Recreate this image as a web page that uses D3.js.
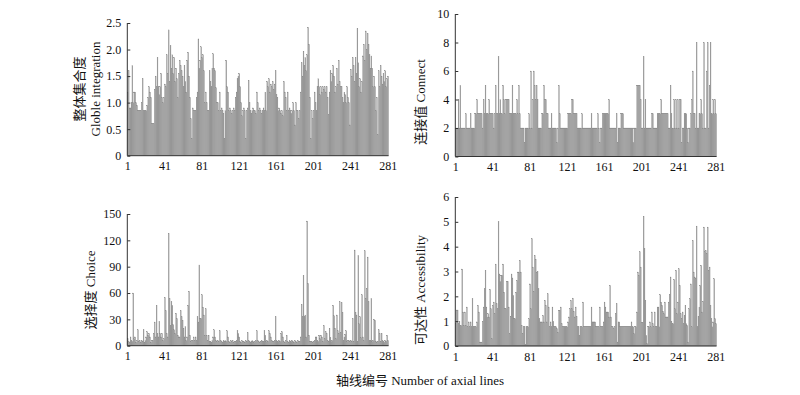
<!DOCTYPE html>
<html><head><meta charset="utf-8">
<script src="https://cdn.jsdelivr.net/npm/d3@7"></script>
<style>body{margin:0;background:#fff}</style>
</head><body><svg id="c" width="800" height="395"></svg>
<script>
// ---- data ----
const axialIds = d3.range(1, 282);
const xTickLabels = [1, 41, 81, 121, 161, 201, 241, 281];

const integration = [
1.2,1.6,0.9,0.9,1.0,1.7,1.0,1.2,1.2,1.0,
0.95,0.85,0.85,0.85,0.85,1.0,1.45,0.85,0.85,0.85,
0.85,0.95,1.1,1.3,1.2,1.1,0.6,0.6,0.6,1.25,
1.5,1.3,1.85,1.3,1.15,1.3,1.55,1.1,1.0,1.1,
1.35,1.3,1.9,1.55,2.37,1.4,2.07,1.65,1.9,1.55,
1.85,1.4,1.65,1.45,1.1,1.55,1.8,1.7,1.6,1.5,
1.3,1.7,1.4,1.2,1.8,1.95,1.5,1.1,0.7,0.33,
0.9,0.85,0.85,0.85,1.1,1.2,2.2,1.65,1.8,2.05,
1.85,1.9,1.6,1.0,1.2,1.0,0.85,0.85,1.6,1.4,
1.3,1.65,1.92,1.65,1.6,1.28,1.0,1.0,0.85,1.2,
0.85,0.9,0.85,0.8,0.33,0.85,1.8,1.3,1.2,0.85,
0.9,0.85,0.8,0.85,0.9,0.85,1.1,1.2,1.45,1.5,
1.55,1.3,1.0,0.75,0.85,0.9,0.85,0.33,0.85,0.9,
1.42,1.0,0.85,0.8,0.85,0.9,0.85,0.85,0.8,1.2,
1.0,0.85,0.9,0.85,0.8,0.85,0.9,0.85,1.2,0.85,
1.4,1.3,1.45,1.2,1.35,1.3,1.4,1.25,1.35,1.6,
1.15,1.1,0.85,0.9,0.85,0.8,0.85,0.75,1.4,1.2,
1.1,0.85,1.2,0.85,0.9,0.85,0.8,0.85,1.0,0.85,
0.58,1.0,0.85,0.85,0.7,0.85,1.2,1.75,1.5,1.97,
1.7,1.85,1.6,1.9,2.42,2.1,1.1,0.33,0.85,0.7,
0.85,1.2,1.0,0.85,1.3,1.45,1.3,1.15,1.3,1.2,
1.3,1.25,1.3,1.2,1.3,1.1,0.77,1.2,1.6,1.4,
1.55,1.7,1.5,1.2,1.3,1.65,1.35,1.8,1.4,1.3,
1.3,1.1,1.0,1.2,1.15,1.0,1.3,1.1,1.0,0.58,
1.63,1.5,1.85,1.7,1.4,1.85,1.55,2.4,1.75,1.3,
1.45,1.2,1.4,1.88,2.1,1.8,2.35,2.0,2.3,2.1,
1.9,1.65,1.88,1.65,1.3,1.5,1.3,0.85,1.1,0.4,
1.6,1.3,1.7,1.5,1.35,1.55,1.4,1.6,1.3,1.45,1.5];

const connect = [
2,2,2,4,2,5,2,2,2,2,
2,3,2,2,2,2,3,2,2,2,
2,3,3,4,3,3,3,3,3,2,
4,3,5,3,3,3,4,3,3,3,
3,2,3,5,3,3,7,3,4,3,
3,5,4,3,4,4,4,4,3,3,
3,5,3,3,3,3,4,3,5,3,
2,2,2,2,1,2,2,2,2,3,
2,6,2,4,6,5,4,5,4,2,
2,2,2,3,3,5,4,4,3,3,
2,2,2,3,2,2,2,2,2,1,
2,5,3,2,2,2,2,2,2,2,
2,3,3,3,3,4,4,3,3,3,
3,2,2,2,2,2,3,2,2,2,
2,2,2,2,2,2,3,2,2,2,
2,2,2,3,2,1,2,2,3,3,
3,3,3,3,3,4,2,2,2,2,
2,2,2,3,1,2,2,2,3,3,
3,2,2,2,2,2,2,2,2,2,
2,1,2,2,2,5,5,5,5,4,
2,2,7,2,4,2,2,2,2,2,
2,3,3,2,2,2,2,3,3,3,
3,4,3,3,3,3,3,3,3,2,
2,5,3,2,2,4,2,4,2,4,
2,4,4,1,2,2,3,3,3,2,
1,2,2,3,4,6,3,3,2,8,
2,2,3,3,4,3,2,8,2,2,
6,8,2,5,8,3,3,4,3,4,3];

const choice = [
8,5,4,10,6,5,60,8,10,4,
6,18,5,6,4,6,5,18,4,6,
10,16,12,14,10,4,6,6,14,27,
10,46,14,10,28,14,10,14,6,8,
55,40,14,10,128,54,23,50,46,24,
18,14,37,31,12,10,10,40,33,29,
20,10,22,6,10,46,62,12,5,6,
6,10,6,10,6,33,27,92,31,31,
58,44,35,12,42,12,6,12,5,5,
4,6,10,18,10,6,5,6,5,17,
6,5,4,6,5,6,5,17,10,5,
4,6,5,6,4,5,5,6,17,14,
10,5,4,6,5,5,4,6,5,15,
6,5,4,5,6,5,4,5,6,17,
6,5,4,5,6,5,5,17,12,5,
6,5,17,14,10,6,5,5,6,33,
6,5,5,6,5,14,16,10,5,4,
6,12,5,4,6,5,5,6,5,4,
6,5,4,6,5,5,10,47,33,80,
33,35,10,142,71,12,5,5,5,4,
5,6,10,10,6,5,12,8,12,10,
5,23,8,16,14,6,5,20,9,5,
6,46,34,20,8,35,17,14,50,15,
49,38,6,10,13,17,5,6,6,5,
6,5,31,5,109,38,35,5,103,25,
33,9,58,10,6,108,54,65,101,50,
6,6,54,5,6,30,29,5,4,5,
18,14,5,14,6,5,4,6,5,12,6];

const accessibility = [
0.9,1.45,1.45,0.9,1.0,0.83,0.83,3.1,1.37,0.83,
1.37,0.83,1.57,0.77,0.97,0.77,0.97,0.77,1.9,0.77,
0.77,0.77,0.77,0.97,1.64,1.37,0.16,0.16,0.16,1.0,
1.57,2.3,3.05,1.57,1.17,1.3,1.17,2.28,1.5,0.3,
1.64,1.77,1.3,3.3,1.7,1.5,5.0,2.9,2.6,2.85,
2.85,3.3,2.17,1.5,1.5,2.6,2.6,1.57,0.5,1.2,
2.9,2.74,2.04,1.1,1.1,2.17,2.64,2.98,2.98,3.45,
2.98,0.83,0.5,0.77,0.77,0.05,0.77,0.77,0.77,1.1,
2.5,1.5,4.32,3.18,2.2,3.65,3.5,2.98,3.0,2.3,
1.1,0.97,0.97,0.97,1.23,0.97,1.84,1.64,0.97,2.1,
1.57,0.77,0.97,0.77,1.57,1.0,0.77,0.77,0.77,0.7,
0.56,1.44,1.44,1.57,0.9,0.77,0.77,0.77,0.77,0.77,
0.77,0.97,1.17,1.5,1.84,1.5,1.93,1.4,1.17,1.57,
1.2,0.77,0.77,0.43,0.77,0.77,0.77,1.77,0.77,0.77,
0.77,0.77,0.77,0.77,0.77,0.77,1.57,0.97,0.97,0.97,
0.97,0.77,0.77,0.77,0.77,1.57,0.77,0.77,0.77,0.97,
1.77,1.57,1.37,1.37,1.37,1.17,2.44,1.17,0.77,0.77,
0.7,0.77,1.3,1.7,0.16,0.97,0.97,0.77,0.77,0.77,
0.77,0.77,0.77,0.77,0.77,0.77,0.77,0.77,0.77,0.97,
0.77,0.77,0.5,0.77,0.77,1.37,2.98,2.85,3.79,3.18,
0.94,0.94,5.23,3.92,1.84,0.43,0.1,0.77,0.77,0.97,
0.77,1.37,0.9,0.77,1.37,0.77,0.77,1.57,1.57,0.77,
2.07,1.77,1.64,1.4,1.3,1.77,1.17,1.17,1.17,1.77,
2.07,2.78,1.0,0.9,0.9,2.68,1.5,3.05,1.3,1.77,
3.11,2.44,1.3,1.1,1.37,0.9,1.23,1.64,0.9,0.83,
0.16,1.5,1.9,2.5,0.77,4.25,2.98,2.78,2.71,4.83,
0.77,1.2,1.57,2.44,3.25,1.37,1.8,4.79,3.79,3.85,
3.72,4.79,3.05,3.18,1.64,1.1,0.77,0.97,2.71,1.1,0.9];

const integrationTicks = [0, 0.5, 1, 1.5, 2, 2.5];
const integrationTickLabels = ["0", "0.5", "1.0", "1.5", "2.0", "2.5"];
const connectTicks = [0, 2, 4, 6, 8, 10];
const choiceTicks = [0, 30, 60, 90, 120, 150];
const accessibilityTicks = [0, 1, 2, 3, 4, 5, 6];

const integrationTitle = ["整体集合度", "Globle integration"];
const connectTitle = ["连接值 Connect"];
const choiceTitle = ["选择度 Choice"];
const accessibilityTitle = ["可达性 Accessibility"];
const xAxisTitle = "轴线编号 Number of axial lines";

// ---- layout ----
const svg = d3.select("#c");
const FONT = "'Liberation Serif','Times New Roman','Noto Sans CJK SC',serif";

const panels = [
  {values: integration, ticks: integrationTicks, labels: integrationTickLabels, max: 2.5,
   x0: 127.3, x1: 388.6, yTop: 23, yBase: 155.7, title: integrationTitle, tx: 84, ty: 89},
  {values: connect, ticks: connectTicks, labels: connectTicks.map(String), max: 10,
   x0: 455.3, x1: 716.6, yTop: 14, yBase: 156.5, title: connectTitle, tx: 425, ty: 102},
  {values: choice, ticks: choiceTicks, labels: choiceTicks.map(String), max: 150,
   x0: 127.3, x1: 388.6, yTop: 214, yBase: 345.7, title: choiceTitle, tx: 95, ty: 290},
  {values: accessibility, ticks: accessibilityTicks, labels: accessibilityTicks.map(String), max: 6,
   x0: 455.3, x1: 716.6, yTop: 197, yBase: 346, title: accessibilityTitle, tx: 425, ty: 290}
];

panels.forEach(p => {
  const x = d3.scaleBand().domain(axialIds).range([p.x0, p.x1]).paddingInner(0);
  const y = d3.scaleLinear().domain([0, p.max]).range([p.yBase, p.yTop]);
  const g = svg.append("g");

  g.append("g").selectAll("rect").data(p.values).join("rect")
    .attr("x", (d, i) => x(axialIds[i]))
    .attr("width", x.bandwidth())
    .attr("y", d => y(d))
    .attr("height", d => p.yBase - y(d))
    .attr("fill", "#999999")
    .attr("stroke", "#8a8a8a").attr("stroke-width", 0.2);

  // y axis
  const yAxis = d3.axisLeft(y).tickValues(p.ticks).tickSize(-3)
    .tickFormat((d, i) => p.labels[i]);
  const ya = g.append("g").attr("transform", `translate(${p.x0},0)`).call(yAxis);
  ya.select(".domain").attr("stroke", "#333").attr("d", `M0,${p.yBase}V${p.yTop}`);
  ya.selectAll(".tick line").attr("stroke", "#333");
  ya.selectAll(".tick text").attr("x", -6).attr("font-family", FONT)
    .attr("font-size", 12).attr("fill", "#111");

  // x axis
  const xAxis = d3.axisBottom(x).tickValues(xTickLabels).tickSize(0).tickPadding(6);
  const xa = g.append("g").attr("transform", `translate(0,${p.yBase})`).call(xAxis);
  xa.select(".domain").attr("stroke", "#333").attr("d", `M${p.x0},0H${p.x1}`);
  xa.selectAll(".tick text").attr("font-family", FONT).attr("font-size", 12).attr("fill", "#111");

  // title
  const t = g.append("text")
    .attr("transform", `translate(${p.tx},${p.ty}) rotate(-90)`)
    .attr("text-anchor", "middle").attr("font-family", FONT)
    .attr("font-size", 13).attr("fill", "#111");
  p.title.forEach((line, i) => {
    t.append("tspan").attr("x", 0).attr("dy", i === 0 ? 0 : 16).text(line);
  });
});

svg.append("text").attr("x", 420).attr("y", 385).attr("text-anchor", "middle")
  .attr("font-family", FONT).attr("font-size", 13).attr("fill", "#111").text(xAxisTitle);
</script></body></html>
